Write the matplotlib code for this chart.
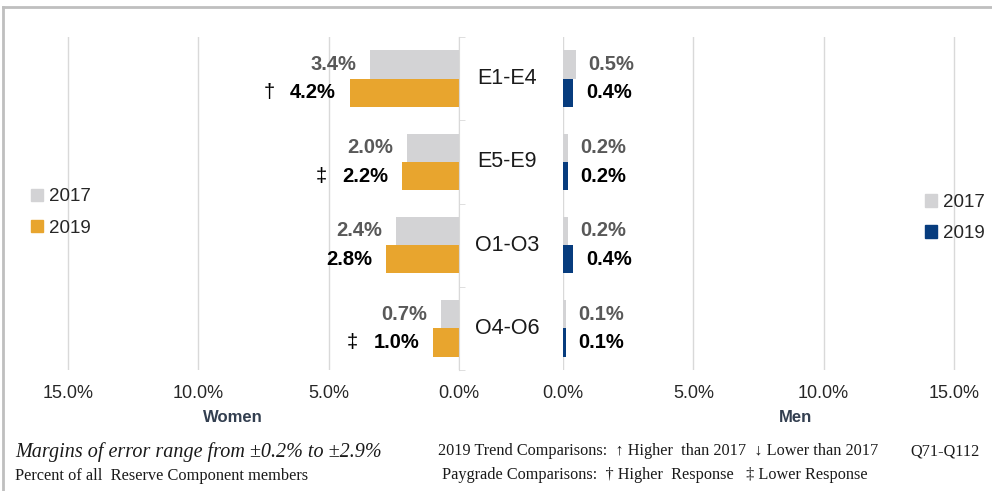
import matplotlib
matplotlib.use("Agg")
import matplotlib.pyplot as plt
from matplotlib.patches import Patch
from matplotlib.lines import Line2D
from matplotlib import transforms

plt.rcParams['font.family'] = ['Liberation Sans', 'DejaVu Sans']

# data
paygrades = ["E1-E4", "E5-E9", "O1-O3", "O4-O6"]
women_2017 = [3.4, 2.0, 2.4, 0.7]
women_2019 = [4.2, 2.2, 2.8, 1.0]
women_marks = ["\u2020", "\u2021", "", "\u2021"]
men_2017 = [0.5, 0.2, 0.2, 0.1]
men_2019 = [0.4, 0.2, 0.4, 0.1]
years = ["2017", "2019"]
xticks = [0, 5, 10, 15]

C_GRAY = "#D3D3D5"
C_ORANGE = "#E8A52E"
C_NAVY = "#073C7E"
C_GRID = "#D9D9D9"

W, H = 992, 491
fig = plt.figure(figsize=(W / 100, H / 100), dpi=100)


def px(x0, y0, x1, y1):
    # pixel box (top-origin) -> figure fraction rect
    return [x0 / W, 1 - y1 / H, (x1 - x0) / W, (y1 - y0) / H]


ax_l = fig.add_axes(px(55, 37, 459, 370))
ax_r = fig.add_axes(px(563, 37, 967, 370))

ypos = list(range(len(paygrades)))
bh = 0.34
off = 0.17

ax_l.barh([y - off for y in ypos], women_2017, height=bh, color=C_GRAY)
ax_l.barh([y + off for y in ypos], women_2019, height=bh, color=C_ORANGE)
ax_r.barh([y - off for y in ypos], men_2017, height=bh, color=C_GRAY)
ax_r.barh([y + off for y in ypos], men_2019, height=bh, color=C_NAVY)

ax_l.set_xlim(15.5, 0)
ax_r.set_xlim(0, 15.5)

for ax in (ax_l, ax_r):
    ax.set_ylim(3.5, -0.5)
    ax.set_xticks(xticks)
    ax.set_xticklabels([f"{t:.1f}%" for t in xticks], fontsize=13, color="#262626")
    ax.tick_params(axis="x", length=0, pad=11)
    ax.grid(axis="x", color=C_GRID, lw=1)
    ax.set_axisbelow(True)
    for s in ax.spines.values():
        s.set_visible(False)
    ax.set_yticks([])

# left panel: spine at 0 with small ticks between paygrades
ax_l.spines["right"].set_visible(True)
ax_l.spines["right"].set_color(C_GRID)
ax_l.yaxis.tick_right()
ax_l.set_yticks([-0.5, 0.5, 1.5, 2.5, 3.5], minor=True)
ax_l.tick_params(axis="y", which="minor", length=4, color=C_GRID, direction="out")

# value labels
for i in ypos:
    ax_l.annotate(f"{women_2017[i]:.1f}%", xy=(women_2017[i], i - off), xytext=(-10, 0),
                  textcoords="offset points", ha="right", va="center",
                  fontsize=14.5, fontweight="bold", color="#595959")
    t = ax_l.annotate(f"{women_2019[i]:.1f}%", xy=(women_2019[i], i + off), xytext=(-10, 0),
                      textcoords="offset points", ha="right", va="center",
                      fontsize=14.5, fontweight="bold", color="black")
    if women_marks[i]:
        ax_l.annotate(women_marks[i], xy=(0, 0.5), xycoords=t, xytext=(-11, 0),
                      textcoords="offset points", ha="right", va="center",
                      fontsize=14.5, color="black")
    ax_r.annotate(f"{men_2017[i]:.1f}%", xy=(men_2017[i], i - off), xytext=(9, 0),
                  textcoords="offset points", ha="left", va="center",
                  fontsize=14.5, fontweight="bold", color="#595959")
    ax_r.annotate(f"{men_2019[i]:.1f}%", xy=(men_2019[i], i + off), xytext=(9, 0),
                  textcoords="offset points", ha="left", va="center",
                  fontsize=14.5, fontweight="bold", color="black")

# paygrade labels in the middle
mid = transforms.blended_transform_factory(fig.transFigure, ax_l.transData)
for i, name in enumerate(paygrades):
    fig.text(507 / W, i, name, transform=mid, ha="center", va="center",
             fontsize=15.5, color="#1a1a1a")

# panel titles
fig.text(233 / W, 1 - 417 / H, "Women", ha="center", va="center",
         fontsize=12, fontweight="bold", color="#333F50")
fig.text(795 / W, 1 - 417 / H, "Men", ha="center", va="center",
         fontsize=12, fontweight="bold", color="#333F50")

# legends
leg_kw = dict(frameon=False, fontsize=13.5, handlelength=0.65, handleheight=0.65,
              handletextpad=0.3, labelspacing=0.75, borderpad=0, borderaxespad=0,
              loc="center left", labelcolor="#262626")
fig.legend([Patch(color=C_GRAY), Patch(color=C_ORANGE)], years,
           bbox_to_anchor=(31 / W, 1 - 212.5 / H), **leg_kw)
fig.legend([Patch(color=C_GRAY), Patch(color=C_NAVY)], years,
           bbox_to_anchor=(925 / W, 1 - 218 / H), **leg_kw)

# footer notes
serif = ['Liberation Serif', 'DejaVu Serif']
fig.text(15 / W, 1 - 452 / H, "Margins of error range from \u00b10.2% to \u00b12.9%",
         family=serif, style="italic", fontsize=14.5, ha="left", va="center", color="#1a1a1a")
fig.text(15 / W, 1 - 476 / H, "Percent of all  Reserve Component members",
         family=serif, fontsize=11.8, ha="left", va="center", color="#1a1a1a")
fig.text(438 / W, 1 - 451 / H,
         "2019 Trend Comparisons:  \u2191 Higher  than 2017  \u2193 Lower than 2017",
         family=serif, fontsize=11.7, ha="left", va="center", color="#1a1a1a")
fig.text(655 / W, 1 - 475 / H,
         "Paygrade Comparisons:  \u2020 Higher  Response   \u2021 Lower Response",
         family=serif, fontsize=11.7, ha="center", va="center", color="#1a1a1a")
fig.text(980 / W, 1 - 451 / H, "Q71-Q112",
         family=serif, fontsize=11.7, ha="right", va="center", color="#1a1a1a")

# outer frame (top and left edges)
fig.add_artist(Line2D([3 / W, 1], [1 - 7 / H, 1 - 7 / H], color="#BFBFBF", lw=2))
fig.add_artist(Line2D([3 / W, 3 / W], [0, 1 - 7 / H], color="#BFBFBF", lw=2))

fig.savefig("out.png", dpi=100)
